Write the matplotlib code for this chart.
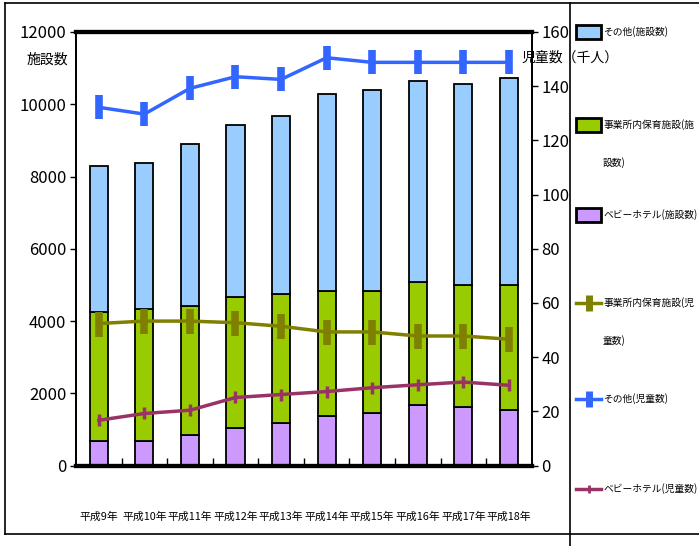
import matplotlib
matplotlib.use("Agg")
import matplotlib.pyplot as plt
from matplotlib.lines import Line2D
from matplotlib.patches import Rectangle
import numpy as np

plt.rcParams["font.family"] = ["Noto Sans CJK JP", "DejaVu Sans"]

# ── data ─────────────────────────────────────────────
years = ["平成9年", "平成10年", "平成11年", "平成12年", "平成13年",
         "平成14年", "平成15年", "平成16年", "平成17年", "平成18年"]
# facilities (stacked bars)
babyhotel_fac = [673, 673, 839, 1025, 1183, 1366, 1449, 1681, 1607, 1543]
jigyosho_fac  = [3565, 3648, 3574, 3637, 3554, 3463, 3371, 3397, 3388, 3452]
sonota_fac    = [4053, 4064, 4498, 4756, 4950, 5467, 5568, 5559, 5559, 5734]
# children (thousands)
jigyosho_child  = [52.4, 53.3, 53.3, 52.7, 51.4, 49.3, 49.3, 47.8, 47.8, 46.6]
sonota_child    = [132.2, 129.7, 139.2, 143.5, 142.5, 150.5, 148.8, 148.8, 148.8, 148.8]
babyhotel_child = [16.7, 19.2, 20.4, 25.1, 26.2, 27.3, 28.7, 29.8, 30.8, 29.6]

C_BLUE_BAR = "#99CCFF"
C_GREEN = "#99CC00"
C_PURPLE_BAR = "#CC99FF"
C_BLUE_LINE = "#3366FF"
C_OLIVE = "#808000"
C_PLUM = "#993366"

W, H = 699, 546
fig = plt.figure(figsize=(W / 100, H / 100), dpi=100)
ax = fig.add_axes([76 / W, 1 - 465.5 / H, (531.7 - 76) / W, (465.5 - 32) / H])
ax2 = ax.twinx()

x = np.arange(len(years))
bw = 0.4
b1 = np.array(babyhotel_fac)
b2 = np.array(jigyosho_fac)
b3 = np.array(sonota_fac)
ax.bar(x, b1, bw, color=C_PURPLE_BAR, edgecolor="black", linewidth=1.3, zorder=2)
ax.bar(x, b2, bw, bottom=b1, color=C_GREEN, edgecolor="black", linewidth=1.3, zorder=2)
ax.bar(x, b3, bw, bottom=b1 + b2, color=C_BLUE_BAR, edgecolor="black", linewidth=1.3, zorder=2)

ax.set_xlim(-0.5, len(years) - 0.5)
ax.set_ylim(0, 12000)
ax.set_yticks(range(0, 12001, 2000))
ax.tick_params(axis="y", direction="out", length=4, width=1, labelsize=12, pad=3)
ax.set_xticks(x)
ax.set_xticklabels(years, fontsize=7.8)
ax.tick_params(axis="x", length=0, pad=33)
ax.set_xticks(np.arange(0.5, len(years) - 0.5, 1), minor=True)
ax.tick_params(axis="x", which="minor", direction="in", length=6, width=1)

ax2.plot(x, sonota_child, color=C_BLUE_LINE, lw=2.5, marker="|", ms=17, mew=5.5, zorder=3)
ax2.plot(x, jigyosho_child, color=C_OLIVE, lw=2.5, marker="|", ms=18, mew=5.5, zorder=3)
ax2.plot(x, babyhotel_child, color=C_PLUM, lw=2.5, marker="|", ms=8, mew=2.5, zorder=3)
ax2.set_ylim(0, 160)
ax2.set_yticks(range(0, 161, 20))
ax2.tick_params(axis="y", direction="out", length=4, width=1, labelsize=12, pad=3)

for a in (ax, ax2):
    a.spines["top"].set_linewidth(3)
    a.spines["bottom"].set_linewidth(3)
    a.spines["left"].set_linewidth(1.3)
    a.spines["right"].set_linewidth(1.3)

fig.text(47 / W, 1 - 60 / H, "施設数", ha="center", va="center", fontsize=10)
fig.text(522 / W, 1 - 58 / H, "児童数（千人）", ha="left", va="center", fontsize=10)

# frame lines (table-like borders)
def fline(x0, y0, x1, y1, lw=1.2):
    fig.add_artist(Line2D([x0 / W, x1 / W], [1 - y0 / H, 1 - y1 / H],
                          color="black", lw=lw))

fline(5, 3, W, 3)
fline(5, 3, 5, 534)
fline(5, 534, W, 534)
fline(570, 3, 570, H)

LFS = 7.0

# legend (manual)
def patch_entry(y, color, label):
    fig.add_artist(Rectangle((576 / W, 1 - (y + 7) / H), 25 / W, 14 / H,
                             facecolor=color, edgecolor="black", lw=2,
                             transform=fig.transFigure))
    fig.text(603 / W, 1 - y / H, label, ha="left", va="center", fontsize=LFS)

def line_entry(y, color, label, ms, mew):
    fig.add_artist(Line2D([576 / W, 601 / W], [1 - y / H, 1 - y / H], color=color,
                          lw=2.5, transform=fig.transFigure))
    fig.add_artist(Line2D([588.5 / W], [1 - y / H], color=color, marker="|",
                          ms=ms, mew=mew, transform=fig.transFigure))
    fig.text(603 / W, 1 - y / H, label, ha="left", va="center", fontsize=LFS)

patch_entry(32, C_BLUE_BAR, "その他(施設数)")
patch_entry(125, C_GREEN, "事業所内保育施設(施")
fig.text(603 / W, 1 - 163 / H, "設数)", ha="left", va="center", fontsize=LFS)
patch_entry(215, C_PURPLE_BAR, "ベビーホテル(施設数)")
line_entry(303, C_OLIVE, "事業所内保育施設(児", 12, 5)
fig.text(603 / W, 1 - 341 / H, "童数)", ha="left", va="center", fontsize=LFS)
line_entry(399, C_BLUE_LINE, "その他(児童数)", 12, 5)
line_entry(489, C_PLUM, "ベビーホテル(児童数)", 6, 2)

fig.savefig("out.png", dpi=100)
